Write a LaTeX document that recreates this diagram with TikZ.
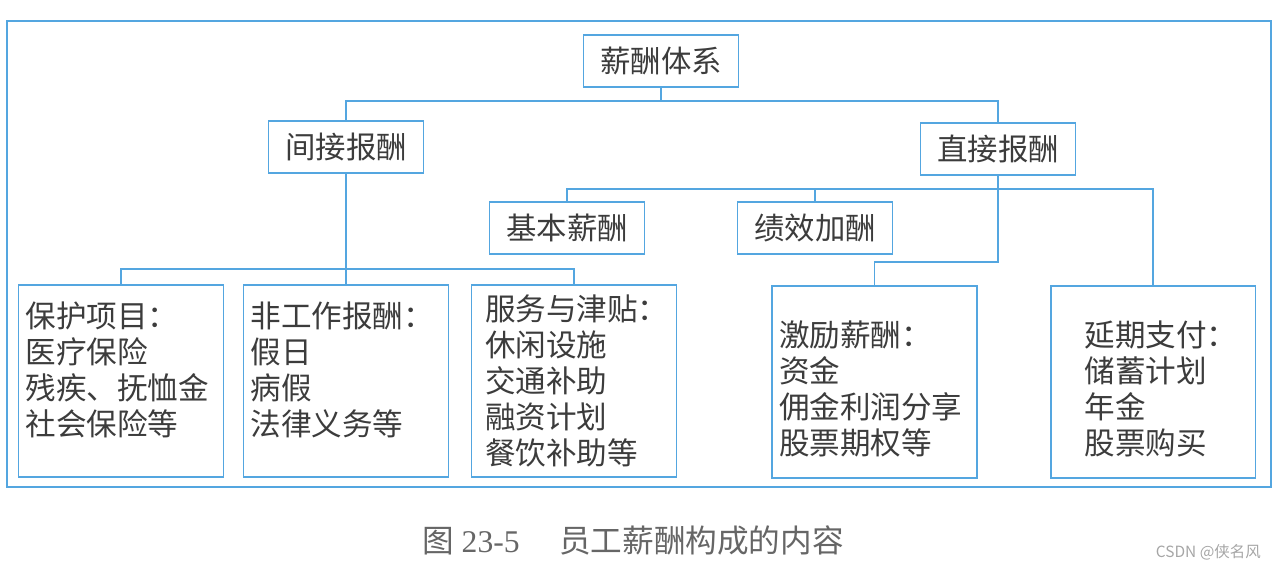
\documentclass[tikz,border=0pt]{standalone}
\usepackage{fontspec}
\setmainfont{Liberation Serif}
\newfontfamily\cjk{Noto Sans CJK SC}
\usepackage{tikz}
\usetikzlibrary{positioning,calc}
\definecolor{lineblue}{RGB}{84,166,224}
\definecolor{txtgray}{RGB}{60,60,60}
\tikzset{
  hd/.style={rectangle,draw=lineblue,line width=1.1pt,minimum width=3.1cm,minimum height=1.04cm,inner sep=0pt,text=txtgray,font=\cjk\fontsize{17.3}{20}\selectfont},
  lb/.style={rectangle,draw=lineblue,line width=1.1pt,minimum width=4.1cm,minimum height=3.84cm,text width=3.82cm,inner sep=0pt,align=left,text=txtgray,font=\cjk\fontsize{17.4}{20.5}\selectfont},
  ln/.style={draw=lineblue,line width=1.1pt},
}
\newcommand{\lowgap}{\rule[-0.5cm]{0pt}{0pt}}
\newcommand{\highgap}{\rule{0pt}{0.8cm}}

\begin{document}
\begin{tikzpicture}[x=0.02cm,y=-0.02cm]
  \useasboundingbox (0,0) rectangle (1280,568);
  \draw[ln] (7,21) rectangle (1271,487);
  \node[hd] (pay) at (661,61) {薪酬体系};
  \node[hd] (ind) at (346,147) {间接报酬};
  \node[hd] (dir) at (998,149) {直接报酬};
  \node[hd] (base) at (567,228) {基本薪酬};
  \node[hd] (merit) at (815,228) {绩效加酬};
  \node[lb] (prot) at (121,381) {保护项目：\\医疗保险\\残疾、抚恤金\\社会保险等\lowgap};
  \node[lb] (nonw) at (346,381) {非工作报酬：\\假日\\病假\\法律义务等\lowgap};
  \node[lb,text width=3.56cm] (serv) at (574,381) {服务与津贴：\\休闲设施\\交通补助\\融资计划\\餐饮补助等};
  \node[lb] (inc) at (874.5,382) {\highgap 激励薪酬：\\资金\\佣金利润分享\\股票期权等};
  \node[lb,text width=2.74cm] (defr) at (1153,382) {\highgap 延期支付：\\储蓄计划\\年金\\股票购买};
  % connectors
  \coordinate (j1) at (661,101);
  \coordinate (j2) at (346,269);
  \coordinate (j3) at (998,189);
  \coordinate (j4) at (998,262);
  \draw[ln] (pay) -- (j1);
  \draw[ln] (ind.north) |- (j1) -| (dir.north);
  \draw[ln] (ind) -- (nonw);
  \draw[ln] (prot.north) |- (j2) -| (serv.north);
  \draw[ln] (base.north) |- (j3) -| (defr.north);
  \draw[ln] (merit.north) -- (merit.north |- j3);
  \draw[ln] (dir) -- (j4) -| (inc.north);
  % caption
  \node[text=gray!80!black,font=\fontsize{18}{20}\selectfont] (cap) at (633,540) {{\cjk 图} 23-5\hspace{1.25em}{\cjk 员工薪酬构成的内容}};
  \node[anchor=east,text=gray!70,font=\cjk\fontsize{8.8}{10}\selectfont] (wm) at (1267,552) {CSDN @侠名风};
\end{tikzpicture}
\end{document}
